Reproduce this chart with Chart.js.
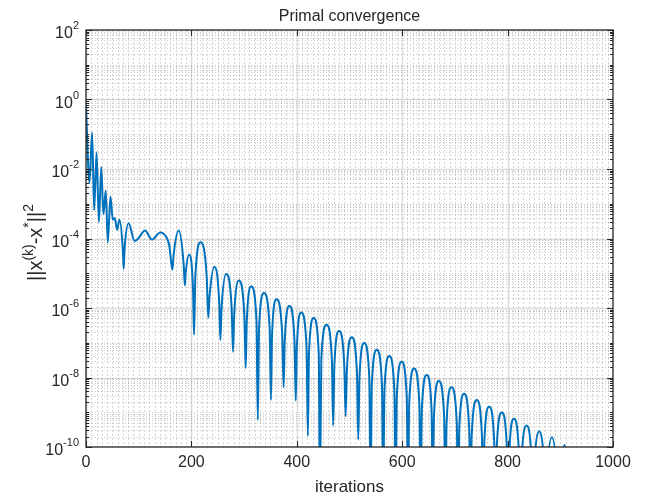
<!DOCTYPE html>
<html>
<head>
<meta charset="utf-8">
<script src="https://cdn.jsdelivr.net/npm/chart.js@4.4.1/dist/chart.umd.min.js"></script>
<style>
  body { margin: 0; background: #fff; }
  #wrap { width: 652px; height: 498px; }
</style>
</head>
<body>
<div id="wrap"><canvas id="conv" width="652" height="498"></canvas></div>
<script>
// iteration index and log10 of ||x(k)-x*||^2
const iters = [
    0, 6.6, 11.6, 15.5, 20, 24.5, 29, 33, 37.5, 41.3, 46.4, 50.8, 54.6, 59, 63.5,
    69.8, 71.5, 73.2, 81, 92, 99, 112, 125, 141, 152, 158,
    164, 166.4, 176, 185.2, 187.5, 189.1, 195.5, 203.1, 205, 207.5, 217.5, 229.1,
    232, 234.3, 243.5, 252.7, 255, 257.2, 266, 276.4, 279, 281.2, 290, 300.4,
    303, 305.1, 313.7, 323.5, 326, 328.4, 337.8, 348.4, 351, 353.1, 361.5, 372.3,
    375, 377.2, 386, 395.6, 398, 400.1, 408.5, 418.5, 421, 423.2, 432, 441.6,
    444, 446.5, 456.5, 466.5, 469, 471.3, 480.3, 490.1, 492.6, 494.9, 504.3, 514.1,
    516.6, 518.9, 528, 537.6, 540, 542.4, 551.8, 561.6, 564, 566.3, 575.5, 585.1,
    587.5, 589.8, 599, 608.6, 611, 613.3, 622.5, 632.5, 635, 637.3, 646.5, 655.7,
    658, 660.3, 669.5, 679.5, 682, 684.3, 693.5, 703.5, 706, 708.3, 717.5, 727.1,
    729.5, 731.9, 741.6, 751.2, 753.6, 755.9, 765, 774.6, 777, 779.4, 789, 798.6,
    801, 803.2, 812, 821.6, 824, 826.4, 836, 845.6, 848, 850.4, 860, 869.6,
    872, 874.4, 884, 893.6, 896, 898.4, 908, 917.6, 920, 931, 943, 955, 967, 978, 990, 1000
];
const logErr = [
    -0.2, -2.40, -0.95, -3.19, -1.52, -3.53, -1.94, -3.3, -2.62, -4.11, -2.79, -3.46, -3.41, -3.75, -3.46,
    -4.3, -4.87, -4.3, -3.56, -4.07, -4.0, -3.77, -4.03, -3.83, -3.95, -4.2,
    -4.90, -4.45, -3.77, -4.72, -5.35, -5.0, -4.47, -5.47, -6.77, -5.11, -4.11, -5.11,
    -6.28, -5.69, -4.81, -5.81, -6.92, -6.02, -5.02, -6.02, -7.26, -6.21, -5.21, -6.21,
    -7.73, -6.38, -5.38, -6.38, -9.22, -6.57, -5.57, -6.57, -8.65, -6.75, -5.75, -6.75,
    -8.28, -6.94, -5.94, -6.94, -8.67, -7.13, -6.13, -7.13, -9.68, -7.29, -6.29, -7.29,
    -11.5, -7.48, -6.48, -7.48, -9.38, -7.66, -6.66, -7.66, -9.12, -7.84, -6.84, -7.84,
    -9.79, -8.01, -7.01, -8.01, -11.5, -8.20, -7.20, -8.20, -11.5, -8.38, -7.38, -8.38,
    -11.5, -8.55, -7.55, -8.55, -11.5, -8.74, -7.74, -8.74, -11.5, -8.93, -7.93, -8.93,
    -11.5, -9.10, -8.10, -9.10, -11.5, -9.28, -8.28, -9.28, -11.5, -9.47, -8.47, -9.47,
    -11.5, -9.65, -8.65, -9.65, -11.5, -9.84, -8.84, -9.84, -11.5, -10.01, -9.01, -10.01,
    -11.5, -10.19, -9.19, -10.19, -11.5, -10.38, -9.38, -10.38, -11.5, -10.55, -9.55, -10.55,
    -11.5, -10.72, -9.72, -10.72, -11.5, -10.94, -9.94, -10.94, -11.5, -10.12, -11.5, -10.3, -11.5, -10.5, -11.5, -10.7
];

const xTicks = [0, 200, 400, 600, 800, 1000];
const yDecadeLabels = [2, 0, -2, -4, -6, -8, -10];

const FONT = '"Liberation Sans", Arial, Helvetica, sans-serif';
const TXT = '#262626';

const points = iters.map((it, i) => ({ x: it, y: Math.pow(10, logErr[i]) }));

// matlab style grid, box, inward ticks and superscript labels
const matlabAxes = {
    id: 'matlabAxes',
    beforeDatasetsDraw(chart) {
        const { ctx, chartArea: a, scales: { x, y } } = chart;
        ctx.save();
        ctx.beginPath();
        ctx.rect(a.left, a.top, a.right - a.left, a.bottom - a.top);
        ctx.clip();
        ctx.lineWidth = 1;

        // minor grid (dotted)
        ctx.setLineDash([2, 2]);
        ctx.strokeStyle = 'rgba(0,0,0,0.16)';
        ctx.beginPath();
        for (let v = 10; v < 1000; v += 10) {
            if (v % 200 === 0) continue;
            const px = Math.round(x.getPixelForValue(v)) + 0.5;
            ctx.moveTo(px, a.top);
            ctx.lineTo(px, a.bottom);
        }
        ctx.stroke();
        ctx.setLineDash([1, 2]);
        ctx.strokeStyle = 'rgba(0,0,0,0.2)';
        ctx.beginPath();
        for (let e = -10; e < 2; e++) {
            for (let m = 2; m <= 10; m++) {
                if (m === 10 && (e + 1) % 2 === 0) continue;
                const py = Math.round(y.getPixelForValue(m * Math.pow(10, e))) + 0.5;
                ctx.moveTo(a.left, py);
                ctx.lineTo(a.right, py);
            }
        }
        ctx.stroke();

        // major grid
        ctx.setLineDash([]);
        ctx.strokeStyle = 'rgba(0,0,0,0.14)';
        ctx.lineWidth = 1.5;
        ctx.beginPath();
        xTicks.forEach(v => {
            const px = Math.round(x.getPixelForValue(v)) + 0.5;
            ctx.moveTo(px, a.top);
            ctx.lineTo(px, a.bottom);
        });
        yDecadeLabels.forEach(e => {
            const py = Math.round(y.getPixelForValue(Math.pow(10, e))) + 0.5;
            ctx.moveTo(a.left, py);
            ctx.lineTo(a.right, py);
        });
        ctx.stroke();
        ctx.restore();
    },
    afterDatasetsDraw(chart) {
        const { ctx, chartArea: a, scales: { x, y } } = chart;
        ctx.save();
        ctx.strokeStyle = TXT;
        ctx.lineWidth = 1;

        // ticks pointing inward
        ctx.beginPath();
        xTicks.forEach(v => {
            const px = Math.round(x.getPixelForValue(v)) + 0.5;
            ctx.moveTo(px, a.bottom); ctx.lineTo(px, a.bottom - 6);
            ctx.moveTo(px, a.top); ctx.lineTo(px, a.top + 6);
        });
        for (let e = -10; e <= 2; e++) {
            for (let m = 1; m <= 9; m++) {
                if (e === 2 && m > 1) break;
                const v = m * Math.pow(10, e);
                const major = m === 1 && e % 2 === 0;
                const len = major ? 6 : 3;
                const py = Math.round(y.getPixelForValue(v)) + 0.5;
                ctx.moveTo(a.left, py); ctx.lineTo(a.left + len, py);
                ctx.moveTo(a.right, py); ctx.lineTo(a.right - len, py);
            }
        }
        ctx.stroke();

        // box
        ctx.lineWidth = 1.3;
        ctx.strokeRect(a.left, a.top, a.right - a.left, a.bottom - a.top);

        // y tick labels 10^k
        ctx.fillStyle = TXT;
        ctx.textAlign = 'left';
        ctx.textBaseline = 'alphabetic';
        yDecadeLabels.forEach(e => {
            const py = y.getPixelForValue(Math.pow(10, e));
            const sup = String(e);
            ctx.font = '11px ' + FONT;
            const sw = ctx.measureText(sup).width;
            ctx.font = '16px ' + FONT;
            const bw = ctx.measureText('10').width;
            const right = a.left - 7;
            ctx.fillText('10', right - sw - bw, py + 8);
            ctx.font = '11px ' + FONT;
            ctx.fillText(sup, right - sw, py - 1);
        });

        // y axis title ||x^(k)-x^*||^2
        const parts = [['||x', 20, 0], ['(k)', 14, -9], ['-x', 20, 0], ['*', 14, -9], ['||', 20, 0], ['2', 14, -9]];
        let total = 0;
        parts.forEach(p => { ctx.font = p[1] + 'px ' + FONT; total += ctx.measureText(p[0]).width; });
        ctx.translate(36, (a.top + a.bottom) / 2 + 4);
        ctx.rotate(-Math.PI / 2);
        let cx = -total / 2;
        parts.forEach(p => {
            ctx.font = p[1] + 'px ' + FONT;
            ctx.fillText(p[0], cx, 6 + p[2]);
            cx += ctx.measureText(p[0]).width;
        });
        ctx.setTransform(1, 0, 0, 1, 0, 0);

        // title
        ctx.font = '16px ' + FONT;
        ctx.textAlign = 'center';
        ctx.fillText('Primal convergence', (a.left + a.right) / 2, 21);
        ctx.restore();
    }
};

new Chart(document.getElementById('conv').getContext('2d'), {
    type: 'line',
    data: {
        datasets: [{
            data: points,
            borderColor: '#0072BD',
            borderWidth: 2,
            pointRadius: 0,
            fill: false,
            cubicInterpolationMode: 'monotone',
            clip: 0
        }]
    },
    options: {
        responsive: false,
        animation: false,
        devicePixelRatio: 1,
        layout: { padding: { top: 30, right: 39, left: 0, bottom: 0 } },
        plugins: {
            legend: { display: false },
            tooltip: { enabled: false },
            title: { display: false }
        },
        scales: {
            x: {
                type: 'linear',
                min: 0,
                max: 1000,
                afterFit: s => { s.height = 51; },
                grid: { display: false, drawTicks: false },
                border: { display: false },
                ticks: {
                    stepSize: 200,
                    padding: 6,
                    autoSkip: false,
                    maxRotation: 0,
                    color: TXT,
                    font: { family: FONT, size: 16 },
                    callback: v => String(v)
                },
                title: {
                    display: true,
                    text: 'iterations',
                    color: TXT,
                    font: { family: FONT, size: 17 },
                    padding: { top: 0, bottom: 0 }
                }
            },
            y: {
                type: 'logarithmic',
                min: 1e-10,
                max: 1e2,
                afterFit: s => { s.width = 86; },
                grid: { display: false, drawTicks: false },
                border: { display: false },
                ticks: { display: false }
            }
        }
    },
    plugins: [matlabAxes]
});
</script>
</body>
</html>
